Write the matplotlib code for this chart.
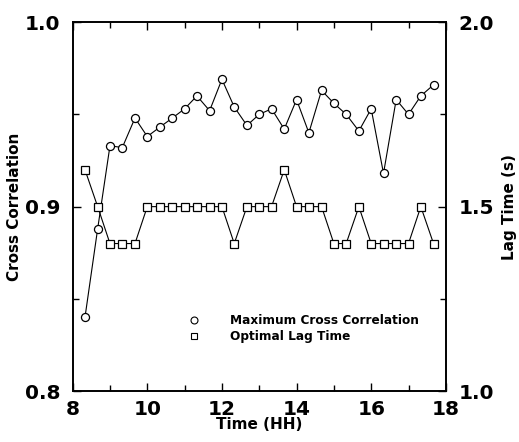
import numpy as np
import matplotlib
matplotlib.use("Agg")
from matplotlib import pyplot as plt
from matplotlib.lines import Line2D
from matplotlib.ticker import MultipleLocator, FormatStrFormatter

plt.rcParams["font.family"] = ["DejaVu Sans"]
plt.rcParams["font.weight"] = "bold"

# time of day (hours), every 20 minutes
time_hh = [8.33, 8.67, 9.0, 9.33, 9.67, 10.0, 10.33, 10.67, 11.0, 11.33,
           11.67, 12.0, 12.33, 12.67, 13.0, 13.33, 13.67, 14.0, 14.33, 14.67,
           15.0, 15.33, 15.67, 16.0, 16.33, 16.67, 17.0, 17.33, 17.67]

cross_corr = [0.840, 0.888, 0.933, 0.932, 0.948, 0.938, 0.943, 0.948, 0.953, 0.960,
              0.952, 0.969, 0.954, 0.944, 0.950, 0.953, 0.942, 0.958, 0.940, 0.963,
              0.956, 0.950, 0.941, 0.953, 0.918, 0.958, 0.950, 0.960, 0.966]

lag_time = [1.6, 1.5, 1.4, 1.4, 1.4, 1.5, 1.5, 1.5, 1.5, 1.5,
            1.5, 1.5, 1.4, 1.5, 1.5, 1.5, 1.6, 1.5, 1.5, 1.5,
            1.4, 1.4, 1.5, 1.4, 1.4, 1.4, 1.4, 1.5, 1.4]

legend_labels = ["Maximum Cross Correlation", "Optimal Lag Time"]

fig = plt.figure(figsize=(5.19, 4.42), dpi=100)
ax = fig.add_axes([0.140, 0.115, 0.719, 0.835])
ax2 = ax.twinx()

ax.plot(time_hh, cross_corr, color="black", lw=0.8, marker="o", ms=5.8,
        mfc="white", mec="black", mew=0.9)
ax2.plot(time_hh, lag_time, color="black", lw=0.8, marker="s", ms=5.3,
         mfc="white", mec="black", mew=0.9)

ax.set_xlim(8, 18)
ax.set_ylim(0.8, 1.0)
ax2.set_ylim(1.0, 2.0)

ax.xaxis.set_major_locator(MultipleLocator(2))
ax.xaxis.set_minor_locator(MultipleLocator(1))
ax.yaxis.set_major_locator(MultipleLocator(0.1))
ax.yaxis.set_minor_locator(MultipleLocator(0.05))
ax2.yaxis.set_major_locator(MultipleLocator(0.5))
ax2.yaxis.set_minor_locator(MultipleLocator(0.25))
ax.yaxis.set_major_formatter(FormatStrFormatter("%.1f"))
ax2.yaxis.set_major_formatter(FormatStrFormatter("%.1f"))

for a in (ax, ax2):
    for s in a.spines.values():
        s.set_linewidth(1.2)
ax.tick_params(axis="x", which="both", direction="in", top=True, labelsize=14.5, pad=6)
ax.tick_params(axis="y", which="both", direction="in", right=False, labelsize=14.5, pad=9)
ax.tick_params(which="major", length=6, width=1)
ax.tick_params(which="minor", length=4, width=1)
ax2.tick_params(axis="y", which="both", direction="in", labelsize=14.5, pad=9)
ax2.tick_params(which="major", length=6, width=1)
ax2.tick_params(which="minor", length=4, width=1)

ax.set_xlabel("Time (HH)", fontsize=11, fontweight="bold", labelpad=-1)
ax.set_ylabel("Cross Correlation", fontsize=11, fontweight="bold", labelpad=2)
ax2.set_ylabel("Lag Time (s)", fontsize=11, fontweight="bold", labelpad=6)

handles = [
    Line2D([], [], ls="none", marker="o", ms=5, mfc="white", mec="black", mew=0.8),
    Line2D([], [], ls="none", marker="s", ms=5, mfc="white", mec="black", mew=0.8),
]
ax.legend(handles, legend_labels, loc="lower left", bbox_to_anchor=(0.28, 0.1),
          frameon=False, handlelength=1.0, handletextpad=2.5,
          labelspacing=0.25, prop={"weight": "bold", "size": 8.7})

fig.savefig("out.png", dpi=100)
